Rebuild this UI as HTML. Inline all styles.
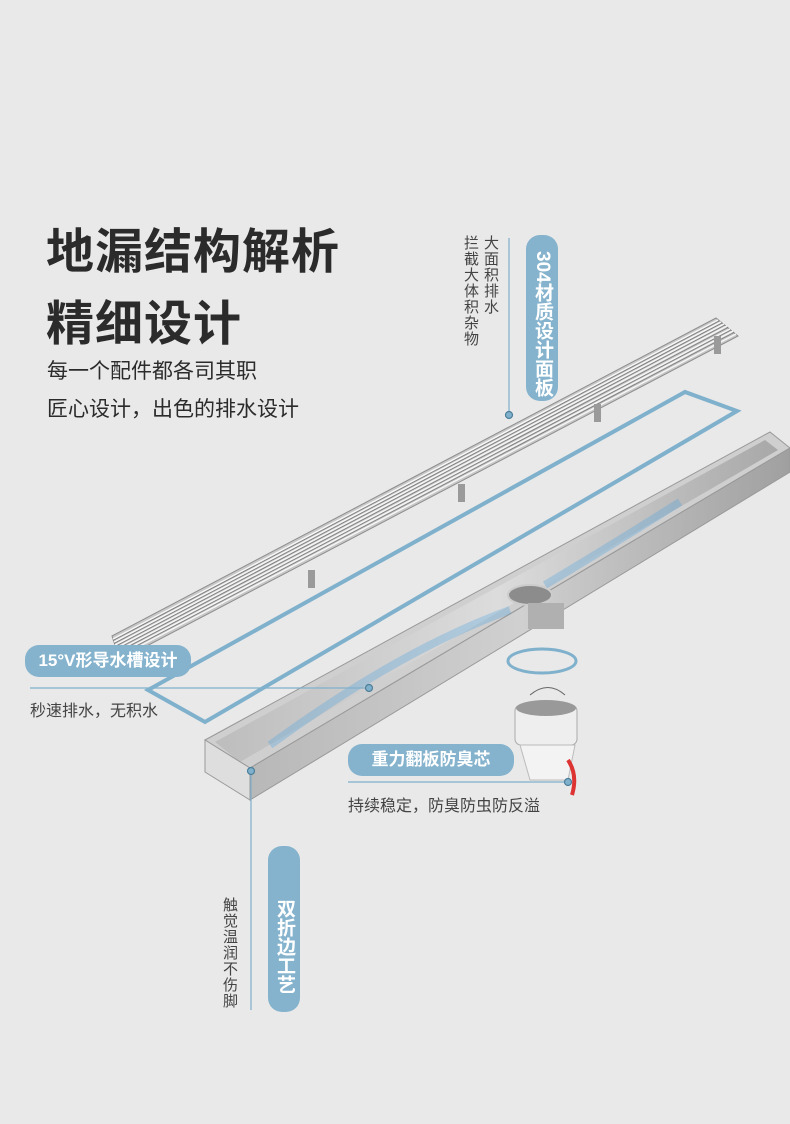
<!DOCTYPE html>
<html><head><meta charset="utf-8">
<style>
body{margin:0;width:790px;height:1124px;background:#e9e9e9;position:relative;overflow:hidden;font-family:"Liberation Sans","Noto Sans CJK SC",sans-serif;}
.t{position:absolute;white-space:nowrap;}
.h1{font-size:48px;font-weight:bold;color:#2b2b2b;left:46px;letter-spacing:1px;}
.sub{font-size:21px;color:#2b2b2b;left:47px;}
.pill{position:absolute;background:#85b3cd;color:#fff;font-weight:bold;border-radius:14px;}
.lab{font-size:16px;color:#444;}
.v{writing-mode:vertical-rl;}
</style></head><body>
<div class="t h1" style="top:212px;">地漏结构解析</div>
<div class="t h1" style="top:284px;">精细设计</div>
<div class="t sub" style="top:355px;">每一个配件都各司其职</div>
<div class="t sub" style="top:393px;">匠心设计，出色的排水设计</div>

<svg width="790" height="1124" style="position:absolute;left:0;top:0">
<defs>
<linearGradient id="tr" x1="0" y1="0" x2="1" y2="0"><stop offset="0" stop-color="#bdbdbd"/><stop offset="0.5" stop-color="#dcdcdc"/><stop offset="1" stop-color="#a8a8a8"/></linearGradient>
<linearGradient id="fr" x1="0" y1="0" x2="1" y2="0"><stop offset="0" stop-color="#b8b8b8"/><stop offset="0.5" stop-color="#d0d0d0"/><stop offset="1" stop-color="#a0a0a0"/></linearGradient>
</defs>
<!-- grate -->
<polygon points="112,636 716,318 738,336 120,660" fill="#c8c8c8" stroke="#8d8d8d"/>
<g stroke="#f7f7f7" stroke-width="1.4">
<line x1="113" y1="639" x2="718" y2="320"/><line x1="114" y1="642" x2="721" y2="322"/>
<line x1="115" y1="645" x2="724" y2="324"/><line x1="116" y1="648" x2="727" y2="326"/>
<line x1="117" y1="651" x2="730" y2="329"/><line x1="118" y1="654" x2="733" y2="331"/>
<line x1="119" y1="657" x2="736" y2="334"/></g>
<g stroke="#7a7a7a" stroke-width="0.8">
<line x1="113" y1="640.5" x2="719" y2="321"/><line x1="114" y1="643.5" x2="722" y2="323"/>
<line x1="115" y1="646.5" x2="725" y2="325"/><line x1="116" y1="649.5" x2="728" y2="327.5"/>
<line x1="117" y1="652.5" x2="731" y2="330"/><line x1="118" y1="655.5" x2="734" y2="332.5"/></g>
<g fill="#9a9a9a"><rect x="308" y="570" width="7" height="18"/><rect x="458" y="484" width="7" height="18"/><rect x="594" y="404" width="7" height="18"/><rect x="714" y="336" width="7" height="18"/></g>
<!-- blue outline -->
<polygon points="148,690 205,722 737,411 685,392" fill="none" stroke="#7fb0cc" stroke-width="4"/>
<!-- trough -->
<polygon points="205,740 770,432 790,448 250,768" fill="#cfcfcf" stroke="#999"/>
<polygon points="215,742 765,440 778,450 240,762" fill="url(#tr)"/>
<polygon points="250,768 790,448 790,472 250,800" fill="url(#fr)" stroke="#999"/>
<polygon points="205,740 250,768 250,800 205,772" fill="#dedede" stroke="#999"/>
<path d="M270 745 Q400 650 510 610" stroke="#4a9fe0" stroke-width="8" opacity="0.3" fill="none"/>
<path d="M545 585 Q620 540 680 502" stroke="#4a9fe0" stroke-width="8" opacity="0.3" fill="none"/>
<ellipse cx="530" cy="595" rx="22" ry="10" fill="#8c8c8c" stroke="#ccc" stroke-width="2"/>
<rect x="528" y="603" width="36" height="26" fill="#b0b0b0"/>
<ellipse cx="542" cy="661" rx="34" ry="12" fill="none" stroke="#7fb0cc" stroke-width="3"/>
<!-- core -->
<path d="M530 695 Q548 680 565 695" stroke="#666" fill="none"/>
<rect x="515" y="705" width="62" height="40" rx="6" fill="#eee" stroke="#aaa"/>
<ellipse cx="546" cy="708" rx="30" ry="8" fill="#999"/>
<path d="M520 745 L575 745 L568 780 L530 780 Z" fill="#f3f3f3" stroke="#bbb"/>
<path d="M568 760 q10 15 4 35" stroke="#d33" stroke-width="4" fill="none"/>
<!-- connector lines -->
<g stroke="#7fb0cc" stroke-width="1.2" fill="none">
<line x1="509" y1="238" x2="509" y2="412"/>
<line x1="30" y1="688" x2="368" y2="688"/>
<line x1="348" y1="782" x2="568" y2="782"/>
<line x1="251" y1="773" x2="251" y2="1010"/>
</g>
<g fill="#7fb0cc" stroke="#4d7f9a" stroke-width="1.2">
<circle cx="509" cy="415" r="3.5"/><circle cx="369" cy="688" r="3.5"/><circle cx="568" cy="782" r="3.5"/><circle cx="251" cy="771" r="3.5"/>
</g>
</svg>

<div class="t lab v" style="left:481px;top:235px;font-size:15px;line-height:18px;letter-spacing:1px;">大面积排水</div>
<div class="t lab v" style="left:461px;top:235px;font-size:15px;line-height:18px;letter-spacing:1px;">拦截大体积杂物</div>
<div class="pill v" style="left:526px;top:235px;width:32px;height:166px;font-size:19px;line-height:32px;text-align:center;padding-top:12px;box-sizing:border-box;">304材质设计面板</div>
<div class="pill" style="left:25px;top:645px;width:166px;height:32px;font-size:17px;line-height:32px;text-align:center;">15°V形导水槽设计</div>
<div class="t lab" style="left:30px;top:697px;">秒速排水，无积水</div>
<div class="pill" style="left:348px;top:744px;width:166px;height:32px;font-size:17px;line-height:32px;text-align:center;">重力翻板防臭芯</div>
<div class="t lab" style="left:348px;top:792px;">持续稳定，防臭防虫防反溢</div>
<div class="pill v" style="left:268px;top:846px;width:32px;height:166px;font-size:19px;line-height:32px;text-align:center;padding-top:34px;box-sizing:border-box;">双折边工艺</div>
<div class="t lab v" style="left:220px;top:897px;font-size:15px;line-height:18px;letter-spacing:1px;">触觉温润不伤脚</div>
</body></html>
